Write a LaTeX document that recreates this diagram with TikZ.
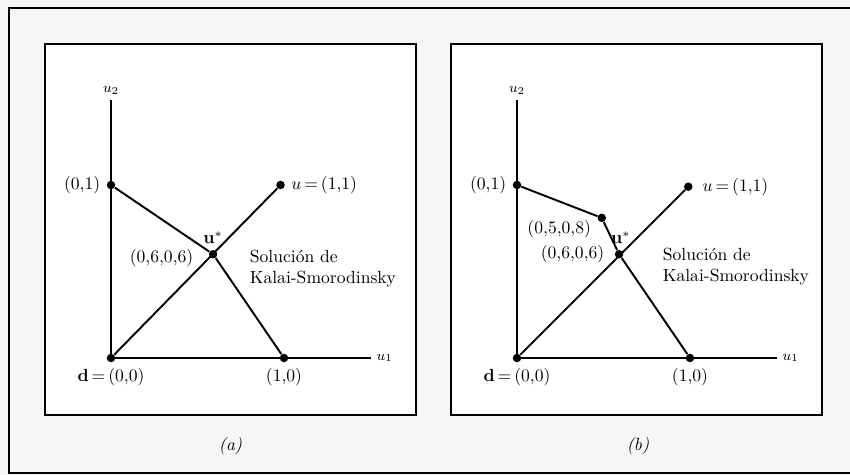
\documentclass[tikz,border=0pt]{standalone}
\usetikzlibrary{positioning}

\tikzset{
    punto/.style={circle, fill=black, inner sep=0pt, minimum size=0.17cm},
    curva/.style={line width=1.1pt},
    caja/.style={line width=1.2pt, fill=white},
    eje/.style={font=\footnotesize},
}

\begin{document}
\begin{tikzpicture}

    % page size and scanned background
    \useasboundingbox (0,0) rectangle (17,9.5);
    \fill [gray!7] (0,0) rectangle (17,9.5);
    \draw [line width=0.9pt] (17,9.34) -- (0.18,9.34) -- (0.18,0.04) -- (17,0.04);

    %% panel (a)
    \begin{scope}[shift={(2.22,2.34)}, x=3.46cm, y=3.46cm]
        % box
        \draw [caja] (-1.32cm,-1.14cm) rectangle (6.1cm,6.28cm);
        \node at (2.39cm,-1.76cm) (capa) {\textit{(a)}};

        % points
        \node [punto] (d) at (0,0) {};
        \node [punto] (p01) at (0,1) {};
        \node [punto] (p10) at (1,0) {};
        \node [punto] (u) at (0.98,1) {};
        \node [punto] (us) at (0.59,0.6) {};
        \coordinate (finu1) at (1.5,0);
        \coordinate (finu2) at (0,1.49);

        % draw axis
        \draw [curva] (d.center) -- (finu1);
        \draw [curva] (d.center) -- (finu2);
        \node [eje, right=0pt of finu1] (lu1) {$u_1$};
        \node [eje, above=0pt of finu2] (lu2) {$u_2$};

        % frontier and ray
        \draw [curva] (d) -- (u);
        \draw [curva] (p01) -- (us) -- (p10);

        % labels
        \node [left=0pt of p01] (lp01) {(0,1)};
        \node [right=0pt of u] (lu) {$u$\,=\,(1,1)};
        \node [above=0pt of us] (lus) {$\mathbf{u}^*$};
        \node [left=0.18cm of us, yshift=-0.08cm] (lus2) {(0,6,0,6)};
        \node [below=0pt of d] (ld) {$\mathbf{d}$\,=\,(0,0)};
        \node [below=0pt of p10] (lp10) {(1,0)};
        \node [right=0.52cm of us, yshift=-0.28cm, align=left] (ks) {Solución de\\Kalai-Smorodinsky};
    \end{scope}

    %% panel (b)
    \begin{scope}[shift={(10.34,2.34)}, x=3.46cm, y=3.46cm]
        % box
        \draw [caja] (-1.32cm,-1.14cm) rectangle (6.1cm,6.28cm);
        \node at (2.42cm,-1.76cm) (capb) {\textit{(b)}};

        % points
        \node [punto] (d) at (0,0) {};
        \node [punto] (p01) at (0,1) {};
        \node [punto] (p10) at (1,0) {};
        \node [punto] (u) at (0.99,0.99) {};
        \node [punto] (p0508) at (0.49,0.81) {};
        \node [punto] (us) at (0.59,0.6) {};
        \coordinate (finu1) at (1.5,0);
        \coordinate (finu2) at (0,1.49);

        % draw axis
        \draw [curva] (d.center) -- (finu1);
        \draw [curva] (d.center) -- (finu2);
        \node [eje, right=0pt of finu1] (lu1) {$u_1$};
        \node [eje, above=0pt of finu2] (lu2) {$u_2$};

        % frontier and ray
        \draw [curva] (d) -- (u);
        \draw [curva] (p01) -- (p0508) -- (us) -- (p10);

        % labels
        \node [left=0pt of p01] (lp01) {(0,1)};
        \node [right=2pt of u] (lu) {$u$\,=\,(1,1)};
        \node [left=0pt of p0508, yshift=-0.22cm] (lp0508) {(0,5,0,8)};
        \node [above=0pt of us, xshift=1pt] (lus) {$\mathbf{u}^*$};
        \node [left=0.08cm of us] (lus2) {(0,6,0,6)};
        \node [below=0pt of d] (ld) {$\mathbf{d}$\,=\,(0,0)};
        \node [below=0pt of p10] (lp10) {(1,0)};
        \node [right=0.66cm of us, yshift=-0.25cm, align=left] (ks) {Solución de\\Kalai-Smorodinsky};
    \end{scope}

\end{tikzpicture}
\end{document}
